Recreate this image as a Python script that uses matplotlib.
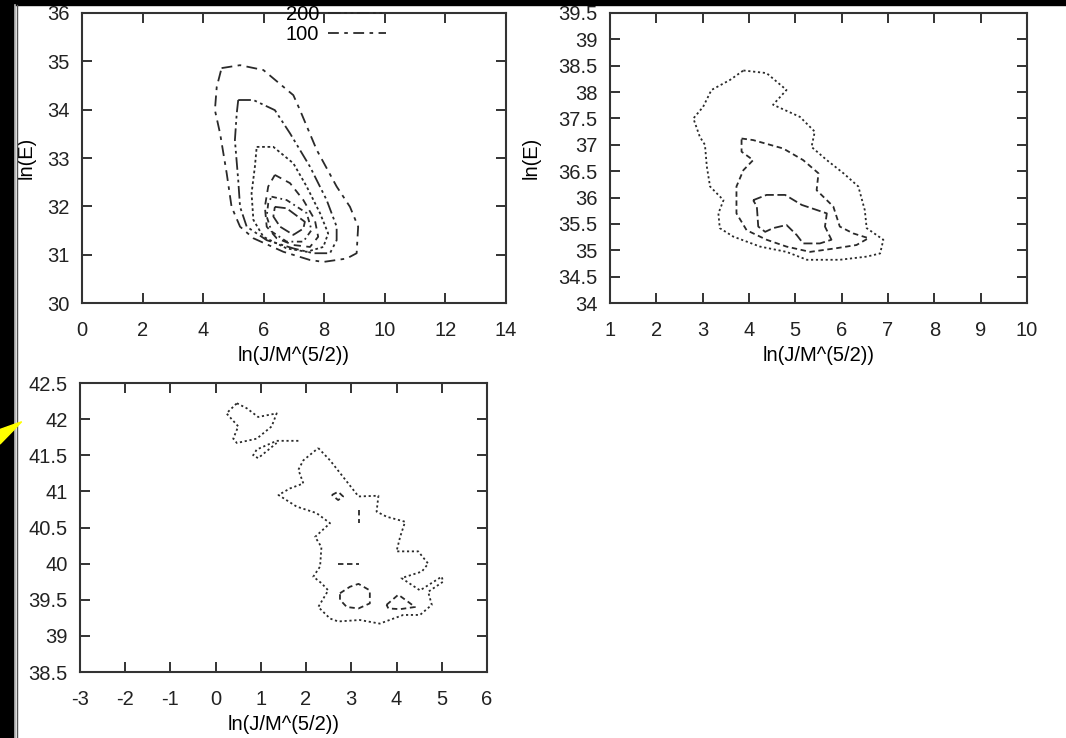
import matplotlib
matplotlib.use("Agg")
import matplotlib.pyplot as plt
from matplotlib.patches import Rectangle, Polygon
from matplotlib.lines import Line2D

plt.rcParams['font.family'] = ['Liberation Sans', 'DejaVu Sans']
plt.rcParams['font.size'] = 14.5

# panel 1 (top left) contours, outer to inner
p1_levels = ["100", "200", "300", "400", "500", "600"]
p1_x = [
    [4.61, 5.22, 5.99, 6.98, 7.20, 7.75, 8.41, 8.85, 9.12, 9.07, 8.74, 7.97, 7.53, 6.65, 5.66, 5.22, 4.94, 4.78, 4.56, 4.39, 4.45, 4.61],
    [5.16, 5.66, 6.37, 6.87, 7.53, 8.08, 8.41, 8.41, 8.19, 7.64, 6.98, 6.10, 5.44, 5.22, 5.16, 5.05, 5.11, 5.16],
    [5.77, 6.32, 6.98, 7.42, 7.86, 8.13, 7.97, 7.42, 6.76, 5.99, 5.66, 5.60, 5.71, 5.77],
    [6.37, 6.87, 7.31, 7.69, 7.80, 7.53, 6.98, 6.43, 6.10, 6.04, 6.15, 6.37],
    [6.26, 6.76, 7.42, 7.58, 7.31, 6.76, 6.26, 6.10, 6.15, 6.26],
    [6.37, 6.76, 7.36, 7.31, 6.98, 6.54, 6.32, 6.37],
]
p1_y = [
    [34.86, 34.92, 34.82, 34.30, 33.99, 33.17, 32.41, 31.99, 31.58, 31.03, 30.92, 30.85, 30.89, 31.06, 31.34, 31.58, 31.99, 32.68, 33.51, 33.99, 34.47, 34.86],
    [34.20, 34.20, 33.99, 33.51, 32.82, 32.13, 31.58, 31.30, 31.03, 31.03, 31.13, 31.30, 31.58, 31.99, 32.54, 33.37, 33.92, 34.20],
    [33.23, 33.23, 32.89, 32.41, 31.86, 31.44, 31.16, 31.06, 31.13, 31.37, 31.72, 32.27, 32.82, 33.23],
    [32.65, 32.48, 32.13, 31.72, 31.37, 31.16, 31.20, 31.34, 31.58, 31.99, 32.41, 32.65],
    [32.20, 32.13, 31.86, 31.51, 31.27, 31.27, 31.48, 31.79, 32.06, 32.20],
    [31.99, 31.96, 31.68, 31.54, 31.41, 31.58, 31.79, 31.99],
]
p1_styles = [(0, (6, 3, 2, 3)), (0, (7, 2, 1.5, 2, 1.5, 2)), (0, (1.5, 1.5)),
             (0, (4, 3)), (0, (3, 2, 1, 2)), (0, (6, 2))]

# panel 2 (top right)
p2_x = [
    [3.88, 4.38, 4.81, 4.52, 5.10, 5.42, 5.35, 5.68, 6.04, 6.36, 6.50, 6.54, 6.90, 6.83, 6.54, 5.96, 5.25, 4.81, 4.24, 3.66, 3.37, 3.34, 3.45, 3.16, 3.09, 3.05, 2.94, 2.80, 3.01, 3.19, 3.59, 3.88],
    [3.84, 4.09, 4.74, 5.17, 5.50, 5.46, 5.82, 5.96, 6.25, 6.58, 6.32, 5.89, 5.32, 4.81, 4.38, 3.95, 3.73, 3.73, 3.88, 4.09, 3.84, 3.84],
    [4.09, 4.38, 4.78, 5.14, 5.68, 5.64, 5.78, 5.53, 5.17, 5.03, 4.81, 4.52, 4.35, 4.20, 4.17, 4.09],
]
p2_y = [
    [38.41, 38.36, 38.04, 37.76, 37.53, 37.25, 36.96, 36.71, 36.46, 36.21, 35.76, 35.42, 35.20, 34.94, 34.88, 34.82, 34.82, 34.97, 35.07, 35.26, 35.42, 35.70, 35.95, 36.21, 36.59, 37.00, 37.15, 37.50, 37.72, 38.04, 38.23, 38.41],
    [37.12, 37.09, 36.93, 36.71, 36.46, 36.14, 35.83, 35.45, 35.32, 35.23, 35.10, 35.04, 34.97, 35.07, 35.20, 35.38, 35.70, 36.21, 36.52, 36.71, 36.87, 37.12],
    [35.95, 36.05, 36.05, 35.86, 35.70, 35.45, 35.20, 35.13, 35.13, 35.29, 35.48, 35.42, 35.35, 35.45, 35.83, 35.95],
]
p2_styles = [(0, (1.2, 1.5)), (0, (3, 2)), (0, (5, 2))]

# panel 3 (bottom left)
p3_x = [
    [2.27, 2.53, 2.82, 3.16, 3.60, 3.56, 3.78, 4.19, 4.08, 4.00, 4.48, 4.70, 4.56, 4.11, 4.52, 5.00, 5.03, 4.70, 4.78, 4.52, 4.15, 3.63, 3.19, 2.71, 2.53, 2.27, 2.49, 2.34, 2.16, 2.31, 2.34, 2.20, 2.53, 2.23, 1.79, 1.39, 1.64, 1.94, 1.83, 1.94, 2.27],
    [0.47, 0.69, 0.94, 1.35, 1.24, 0.91, 0.47, 0.39, 0.50, 0.24, 0.47],
    [1.83, 1.35, 0.91, 0.83, 0.94, 1.35],
    [2.57, 2.71, 2.82, 2.71, 2.57],
    [3.16, 3.16],
    [2.71, 3.16],
    [2.75, 2.97, 3.16, 3.41, 3.41, 3.16, 2.90, 2.75, 2.75],
    [3.78, 4.04, 4.26, 4.41, 4.08, 3.82, 3.78],
]
p3_y = [
    [41.60, 41.43, 41.20, 40.93, 40.94, 40.72, 40.65, 40.58, 40.37, 40.17, 40.17, 40.00, 39.89, 39.80, 39.63, 39.82, 39.75, 39.61, 39.43, 39.29, 39.29, 39.17, 39.22, 39.20, 39.24, 39.40, 39.63, 39.73, 39.82, 39.96, 40.23, 40.37, 40.56, 40.70, 40.79, 40.95, 41.04, 41.11, 41.30, 41.43, 41.60],
    [42.22, 42.15, 42.03, 42.08, 41.90, 41.73, 41.67, 41.73, 41.90, 42.08, 42.22],
    [41.70, 41.70, 41.58, 41.50, 41.46, 41.67],
    [40.95, 40.995, 40.93, 40.88, 40.95],
    [40.74, 40.56],
    [39.995, 39.995],
    [39.59, 39.68, 39.72, 39.63, 39.45, 39.38, 39.40, 39.50, 39.59],
    [39.43, 39.57, 39.47, 39.40, 39.37, 39.38, 39.43],
]
p3_styles = [(0, (1.2, 1.5)), (0, (1.2, 1.5)), (0, (1.2, 1.5)),
             (0, (3, 2)), (0, (3, 2)), (0, (3, 2)), (0, (3, 2)), (0, (3, 2))]

xlab = "ln(J/M^(5/2))"
ylab = "ln(E)"
col = "#2a2a2a"

fig = plt.figure(figsize=(10.66, 7.38), dpi=100)
fig.patch.set_facecolor("white")

def style(ax, xlim, ylim, xt, yt):
    ax.set_xlim(xlim)
    ax.set_ylim(ylim)
    ax.set_xticks(xt)
    ax.set_yticks(yt)
    ax.set_xticklabels([("%g" % v) for v in xt])
    ax.set_yticklabels([("%g" % v) for v in yt])
    ax.tick_params(direction="in", top=True, right=True, length=7, width=1.4,
                   color="#333333", labelsize=14.5, labelcolor="#222222")
    ax.tick_params(axis="x", pad=13)
    ax.tick_params(axis="y", pad=9)
    for s in ax.spines.values():
        s.set_linewidth(1.5)
        s.set_color("#333333")

ax1 = fig.add_axes([0.0769, 0.5894, 0.3977, 0.3930])
lines1 = []
for xs, ys, ls in zip(p1_x, p1_y, p1_styles):
    l, = ax1.plot(xs, ys, color=col, lw=1.3, linestyle=ls)
    lines1.append(l)
style(ax1, (0, 14), (30, 36), [0, 2, 4, 6, 8, 10, 12, 14], [30, 31, 32, 33, 34, 35, 36])
ax1.set_xlabel(xlab, fontsize=14.5, labelpad=4)
ax1.set_ylabel(ylab, fontsize=14.5, labelpad=8)
ax1.legend([lines1[1], lines1[0]], [p1_levels[1], p1_levels[0]], loc="upper right",
           bbox_to_anchor=(0.742, 1.062), frameon=False, markerfirst=False,
           handlelength=2.9, labelspacing=0.05, borderpad=0, handletextpad=0.45,
           fontsize=14.5)

ax2 = fig.add_axes([0.5722, 0.5894, 0.3912, 0.3930])
for xs, ys, ls in zip(p2_x, p2_y, p2_styles):
    ax2.plot(xs, ys, color=col, lw=1.3, linestyle=ls)
style(ax2, (1, 10), (34, 39.5), list(range(1, 11)),
      [34, 34.5, 35, 35.5, 36, 36.5, 37, 37.5, 38, 38.5, 39, 39.5])
ax2.set_xlabel(xlab, fontsize=14.5, labelpad=4)
ax2.set_ylabel(ylab, fontsize=14.5, labelpad=13)

ax3 = fig.add_axes([0.0750, 0.0894, 0.3818, 0.3916])
for xs, ys, ls in zip(p3_x, p3_y, p3_styles):
    ax3.plot(xs, ys, color=col, lw=1.3, linestyle=ls)
style(ax3, (-3, 6), (38.5, 42.5), list(range(-3, 7)),
      [38.5, 39, 39.5, 40, 40.5, 41, 41.5, 42, 42.5])
ax3.set_xlabel(xlab, fontsize=14.5, labelpad=4)

# black screen border and yellow pointer
fig.add_artist(Rectangle((0, 1 - 5 / 738), 1, 5 / 738, transform=fig.transFigure,
                         color="black", zorder=10))
fig.add_artist(Rectangle((0, 0), 14 / 1066, 1, transform=fig.transFigure,
                         color="black", zorder=10))
fig.add_artist(Line2D([15 / 1066, 15 / 1066], [0, 1 - 5 / 738], transform=fig.transFigure,
                      color="#bbbbbb", lw=1.2, zorder=10))
fig.add_artist(Line2D([17 / 1066, 17 / 1066], [0, 1 - 5 / 738], transform=fig.transFigure,
                      color="#555555", lw=1.0, zorder=10))
fig.add_artist(Polygon([(21.7 / 1066, 1 - 421.7 / 738), (0, 1 - 429.5 / 738), (0, 1 - 444 / 738)],
                       closed=True, transform=fig.transFigure, color="#ffff00", zorder=11))

fig.savefig("out.png", dpi=100)
plt.close(fig)
